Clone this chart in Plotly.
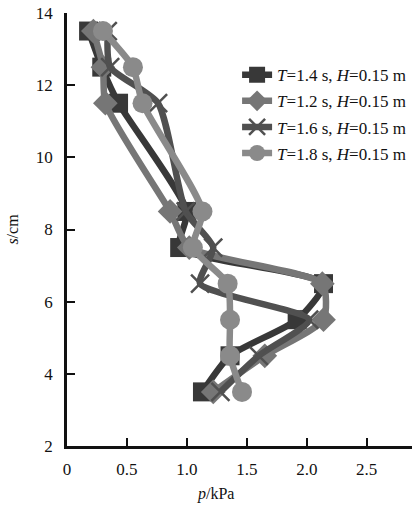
import plotly.graph_objects as go

s_levels = [13.5, 12.5, 11.5, 8.5, 7.5, 6.5, 5.5, 4.5, 3.5]

p_T14 = [0.18, 0.29, 0.43, 1.00, 0.94, 2.14, 1.92, 1.36, 1.13]
p_T12 = [0.22, 0.30, 0.32, 0.86, 1.02, 2.13, 2.14, 1.65, 1.22]
p_T16 = [0.34, 0.36, 0.76, 0.99, 1.22, 1.11, 2.02, 1.60, 1.28]
p_T18 = [0.30, 0.55, 0.63, 1.13, 1.05, 1.34, 1.36, 1.36, 1.46]

names = ["<i>T</i>=1.4 s, <i>H</i>=0.15 m",
         "<i>T</i>=1.2 s, <i>H</i>=0.15 m",
         "<i>T</i>=1.6 s, <i>H</i>=0.15 m",
         "<i>T</i>=1.8 s, <i>H</i>=0.15 m"]

x_ticks = [0, 0.5, 1.0, 1.5, 2.0, 2.5]
x_ticktext = ["0", "0.5", "1.0", "1.5", "2.0", "2.5"]
y_ticks = [2, 4, 6, 8, 10, 12, 14]

FONT = "Liberation Serif, Times New Roman, Times, serif"

series = [
    (p_T14, names[0], "#383838", "square", 19),
    (p_T12, names[1], "#767676", "diamond", 19),
    (p_T16, names[2], "#505050", "x-thin", 18),
    (p_T18, names[3], "#8a8a8a", "circle", 20),
]

fig = go.Figure()
for i, (vals, nm, col, sym, sz) in enumerate(series):
    marker = dict(symbol=sym, size=sz, color=col)
    if sym == "x-thin":
        marker["line"] = dict(color=col, width=2.5)
    else:
        marker["line"] = dict(width=0)
    fig.add_trace(go.Scatter(
        x=vals, y=s_levels, mode="lines+markers", name=nm,
        line=dict(color=col, width=6.5, shape="spline", smoothing=0.6),
        marker=marker, legendgroup=str(i),
    ))

fig.update_layout(
    width=412, height=506,
    margin=dict(l=67, r=0, t=13, b=60, autoexpand=False),
    paper_bgcolor="white", plot_bgcolor="white",
    font=dict(family=FONT, size=16, color="#111"),
    showlegend=True,
    legend=dict(x=0.493, y=0.898, xanchor="left", yanchor="top",
                bgcolor="rgba(0,0,0,0)", font=dict(size=17, family=FONT, color="#111"),
                tracegroupgap=1, itemsizing="trace"),
    xaxis=dict(range=[0, 2.878], tickvals=x_ticks, ticktext=x_ticktext,
               ticks="inside", ticklen=8, tickwidth=2, tickcolor="#111",
               showline=True, linecolor="#111", linewidth=2.5,
               showgrid=False, zeroline=False, ticklabelstandoff=6,
               tickfont=dict(size=17, family=FONT)),
    yaxis=dict(range=[2, 14], tickvals=y_ticks,
               ticks="inside", ticklen=8, tickwidth=2, tickcolor="#111",
               showline=True, linecolor="#111", linewidth=2.5,
               showgrid=False, zeroline=False, ticklabelstandoff=8,
               tickfont=dict(size=17, family=FONT),
               title=dict(text="<i>s</i>/cm", font=dict(size=16, family=FONT), standoff=14)),
    annotations=[dict(text="<i>p</i>/kPa", xref="paper", yref="paper",
                      x=0.43, y=-0.111, xanchor="center", yanchor="middle",
                      showarrow=False, font=dict(size=16, family=FONT))],
)

fig.write_html("out.html", config={"displayModeBar": False},
               post_script="document.body.style.margin='0';document.body.style.overflow='hidden';")
